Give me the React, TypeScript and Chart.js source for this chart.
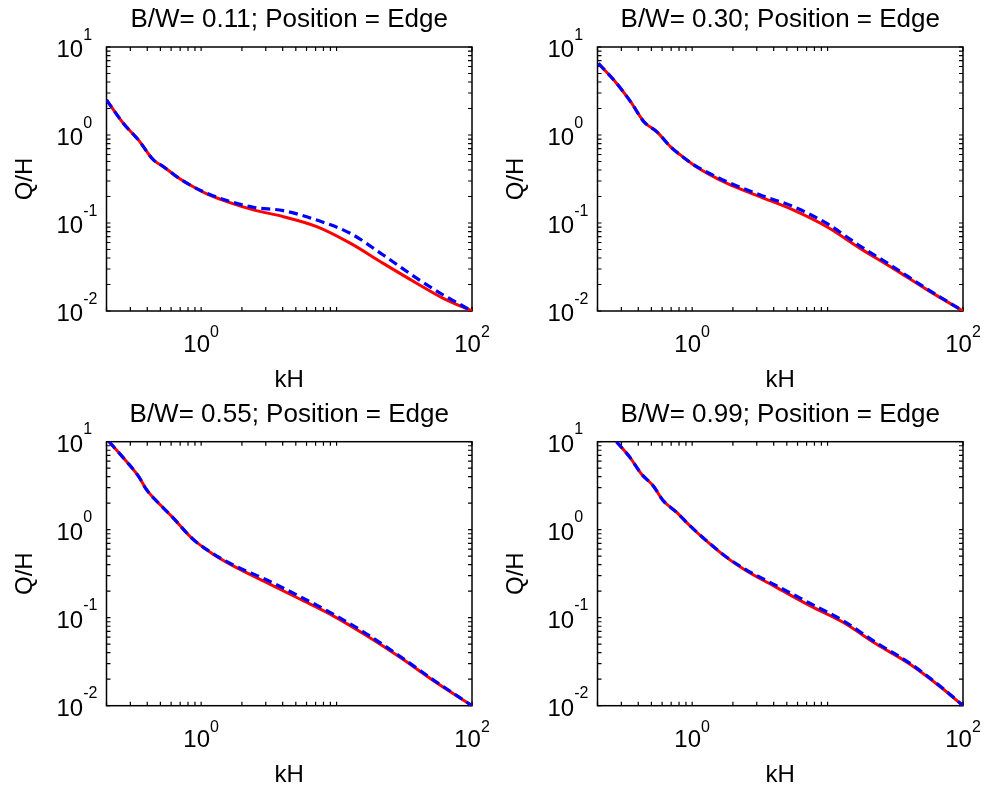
import { useEffect, useRef } from "react";
import { Chart, registerables } from "chart.js";

Chart.register(...registerables);

// ---- Data (kH vs Q/H, log-log) ----
const kH_A = [0.2, 0.266, 0.344, 0.445, 0.527, 0.66, 0.83, 1.1, 1.55, 2.43, 4.05, 7.14, 12.6, 22.1, 39, 61.4, 100];
const QH_A_solid = [2.5, 1.36, 0.88, 0.52, 0.436, 0.336, 0.27, 0.214, 0.175, 0.141, 0.118, 0.091, 0.059, 0.0348, 0.0207, 0.0139, 0.01];
const QH_A_dashed = [2.5, 1.36, 0.88, 0.52, 0.436, 0.336, 0.27, 0.218, 0.18, 0.151, 0.138, 0.108, 0.0764, 0.0433, 0.0236, 0.0152, 0.01];

const kH_B = [0.203, 0.265, 0.352, 0.441, 0.552, 0.693, 0.822, 1.03, 1.37, 1.81, 3.19, 5.61, 9.87, 17.4, 30.5, 53.7, 100];
const QH_B_solid = [6.5, 4.19, 2.38, 1.41, 1.08, 0.733, 0.59, 0.454, 0.35, 0.282, 0.198, 0.14, 0.0906, 0.0515, 0.0305, 0.0176, 0.01];
const QH_B_dashed = [6.5, 4.19, 2.38, 1.41, 1.08, 0.733, 0.59, 0.458, 0.36, 0.294, 0.208, 0.153, 0.0988, 0.0547, 0.0318, 0.018, 0.01];

const kH_C = [0.209, 0.278, 0.349, 0.392, 0.478, 0.616, 0.867, 1.22, 1.71, 3.03, 5.35, 9.44, 16.7, 29.4, 52, 100];
const QH_C_solid = [10, 6.08, 3.94, 2.9, 2.05, 1.38, 0.784, 0.53, 0.39, 0.252, 0.163, 0.105, 0.0624, 0.0355, 0.0192, 0.01];
const QH_C_dashed = [10, 6.08, 3.94, 2.9, 2.05, 1.38, 0.784, 0.535, 0.4, 0.27, 0.174, 0.11, 0.0653, 0.0364, 0.0196, 0.01];

const kH_D = [0.276, 0.347, 0.422, 0.515, 0.611, 0.766, 0.962, 1.27, 1.79, 2.51, 4.19, 7.39, 13, 22.9, 40.4, 71.2, 100];
const QH_D_solid = [10, 6.65, 4.3, 3.16, 2.14, 1.58, 1.11, 0.75, 0.485, 0.342, 0.221, 0.137, 0.0887, 0.0502, 0.0298, 0.0155, 0.01];
const QH_D_dashed = [10, 6.65, 4.3, 3.16, 2.14, 1.58, 1.11, 0.755, 0.49, 0.35, 0.231, 0.146, 0.0927, 0.052, 0.0305, 0.0157, 0.01];

const TITLES = [
  "B/W= 0.11; Position = Edge",
  "B/W= 0.30; Position = Edge",
  "B/W= 0.55; Position = Edge",
  "B/W= 0.99; Position = Edge",
];

const X_MIN = 0.2;
const X_MAX = 100;
const Y_MIN = 0.01;
const Y_MAX = 10;

const X_TICKS = [0.2, 0.3, 0.4, 0.5, 0.6, 0.7, 0.8, 0.9, 1, 2, 3, 4, 5, 6, 7, 8, 9, 10, 100];
const Y_TICKS = [
  0.01, 0.02, 0.03, 0.04, 0.05, 0.06, 0.07, 0.08, 0.09,
  0.1, 0.2, 0.3, 0.4, 0.5, 0.6, 0.7, 0.8, 0.9,
  1, 2, 3, 4, 5, 6, 7, 8, 9, 10,
];
const X_LABEL_VALUES = [1, 100];
const X_LABEL_EXPS = ["0", "2"];
const Y_LABEL_VALUES = [10, 1, 0.1, 0.01];
const Y_LABEL_EXPS = ["1", "0", "-1", "-2"];

const FONT = '"Liberation Sans", Arial, Helvetica, sans-serif';

type PanelDef = {
  title: string;
  x: number[];
  solid: number[];
  dashed: number[];
  left: number;
  top: number;
  w: number;
  h: number;
  pad: { left: number; right: number; top: number; bottom: number };
};

const PANELS: PanelDef[] = [
  { title: TITLES[0], x: kH_A, solid: QH_A_solid, dashed: QH_A_dashed, left: 0, top: 0, w: 493, h: 394, pad: { left: 106.5, right: 21, top: 47, bottom: 83 } },
  { title: TITLES[1], x: kH_B, solid: QH_B_solid, dashed: QH_B_dashed, left: 493, top: 0, w: 493, h: 394, pad: { left: 104.5, right: 23, top: 47, bottom: 83 } },
  { title: TITLES[2], x: kH_C, solid: QH_C_solid, dashed: QH_C_dashed, left: 0, top: 394, w: 493, h: 395, pad: { left: 106.5, right: 21, top: 47.7, bottom: 83.3 } },
  { title: TITLES[3], x: kH_D, solid: QH_D_solid, dashed: QH_D_dashed, left: 493, top: 394, w: 493, h: 395, pad: { left: 104.5, right: 23, top: 47.7, bottom: 83.3 } },
];

const axesPlugin = {
  id: "matlabAxes",
  beforeDatasetsDraw(chart: any) {
    const ctx = chart.ctx;
    const { left, right, top, bottom } = chart.chartArea;
    const xs = chart.scales.x;
    const ys = chart.scales.y;
    ctx.save();
    ctx.strokeStyle = "#000";
    ctx.lineWidth = 1.2;
    const L = 4;
    ctx.beginPath();
    for (const v of X_TICKS) {
      const px = xs.getPixelForValue(v);
      ctx.moveTo(px, bottom);
      ctx.lineTo(px, bottom - L);
      ctx.moveTo(px, top);
      ctx.lineTo(px, top + L);
    }
    for (const v of Y_TICKS) {
      const py = ys.getPixelForValue(v);
      ctx.moveTo(left, py);
      ctx.lineTo(left + L, py);
      ctx.moveTo(right, py);
      ctx.lineTo(right - L, py);
    }
    ctx.stroke();
    ctx.lineWidth = 1.5;
    ctx.strokeRect(left, top, right - left, bottom - top);
    ctx.restore();
  },
  afterDraw(chart: any) {
    const ctx = chart.ctx;
    const { left, right, top, bottom } = chart.chartArea;
    const xs = chart.scales.x;
    const ys = chart.scales.y;
    const title = chart.options.plugins.matlabAxes.title;
    ctx.save();
    ctx.fillStyle = "#000";
    ctx.textBaseline = "alphabetic";
    ctx.textAlign = "left";

    // x tick labels
    X_LABEL_VALUES.forEach((v, i) => {
      const px = xs.getPixelForValue(v);
      ctx.font = `24px ${FONT}`;
      const w1 = ctx.measureText("10").width;
      ctx.font = `16px ${FONT}`;
      const w2 = ctx.measureText(X_LABEL_EXPS[i]).width;
      const start = px - (w1 + w2) / 2;
      ctx.font = `24px ${FONT}`;
      ctx.fillText("10", start, bottom + 41);
      ctx.font = `16px ${FONT}`;
      ctx.fillText(X_LABEL_EXPS[i], start + w1, bottom + 26);
    });

    // y tick labels
    Y_LABEL_VALUES.forEach((v, i) => {
      const py = ys.getPixelForValue(v);
      const start = left - 50;
      ctx.font = `24px ${FONT}`;
      const w1 = ctx.measureText("10").width;
      ctx.fillText("10", start, py + 10);
      ctx.font = `16px ${FONT}`;
      ctx.fillText(Y_LABEL_EXPS[i], start + w1, py - 7.5);
    });

    // title
    ctx.textAlign = "center";
    ctx.font = `26px ${FONT}`;
    ctx.fillText(title, (left + right) / 2, top - 20);

    // x label
    ctx.font = `24px ${FONT}`;
    ctx.fillText("kH", (left + right) / 2, bottom + 76);

    // y label
    ctx.save();
    ctx.translate(left - 75, (top + bottom) / 2);
    ctx.rotate(-Math.PI / 2);
    ctx.fillText("Q/H", 0, 0);
    ctx.restore();

    ctx.restore();
  },
};

function Panel({ p }: { p: PanelDef }) {
  const ref = useRef<HTMLCanvasElement>(null);
  useEffect(() => {
    const canvas = ref.current;
    if (!canvas) return;
    const chart = new Chart(canvas, {
      type: "line",
      data: {
        datasets: [
          {
            label: "solid",
            data: p.x.map((x, i) => ({ x, y: p.solid[i] })),
            borderColor: "#ff0000",
            backgroundColor: "#ff0000",
            borderWidth: 3,
            pointRadius: 0,
            cubicInterpolationMode: "monotone",
            fill: false,
            order: 1,
          },
          {
            label: "dashed",
            data: p.x.map((x, i) => ({ x, y: p.dashed[i] })),
            borderColor: "#0000ff",
            backgroundColor: "#0000ff",
            borderWidth: 3.2,
            borderDash: [9, 5],
            pointRadius: 0,
            cubicInterpolationMode: "monotone",
            fill: false,
            order: 0,
          },
        ],
      },
      options: {
        animation: false,
        responsive: false,
        devicePixelRatio: 1,
        layout: { padding: p.pad },
        scales: {
          x: { type: "logarithmic", min: X_MIN, max: X_MAX, display: false },
          y: { type: "logarithmic", min: Y_MIN, max: Y_MAX, display: false },
        },
        plugins: {
          legend: { display: false },
          tooltip: { enabled: false },
          // @ts-ignore
          matlabAxes: { title: p.title },
        },
      } as any,
      plugins: [axesPlugin],
    });
    return () => chart.destroy();
  }, [p]);
  return (
    <canvas
      ref={ref}
      width={p.w}
      height={p.h}
      style={{ position: "absolute", left: p.left, top: p.top, width: p.w, height: p.h }}
    />
  );
}

export default function App() {
  return (
    <div style={{ position: "absolute", left: 0, top: 0, width: 986, height: 789, background: "#fff" }}>
      {PANELS.map((p, i) => (
        <Panel key={i} p={p} />
      ))}
    </div>
  );
}
